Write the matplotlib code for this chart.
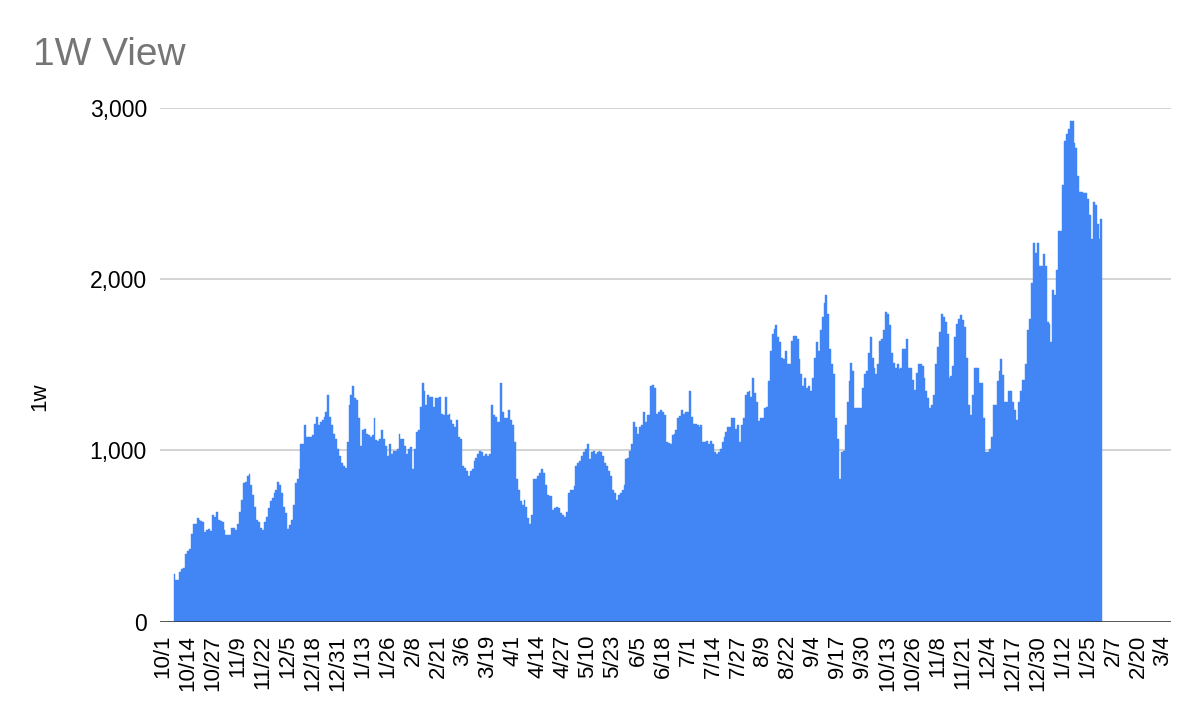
import numpy as np
import pandas as pd
import matplotlib
matplotlib.use("Agg")
import matplotlib.pyplot as plt
import matplotlib.dates as mdates

plt.rcParams['font.family'] = ['Liberation Sans', 'DejaVu Sans']

# daily "1w" values, one per day starting 2022-10-07
start_date = '2022-10-07'
views = [
    277, 241, 241, 290, 306, 316, 395, 415, 425, 514,
    573, 573, 603, 593, 589, 583, 524, 538, 543, 530,
    623, 613, 642, 593, 589, 583, 538, 504, 504, 504,
    549, 549, 538, 573, 642, 711, 810, 814, 850, 860,
    800, 741, 672, 593, 583, 549, 534, 583, 613, 662,
    702, 721, 751, 771, 814, 800, 751, 672, 632, 543,
    563, 593, 682, 810, 830, 889, 1038, 1038, 1146, 1077,
    1077, 1077, 1087, 1156, 1196, 1146, 1166, 1176, 1196, 1225,
    1324, 1196, 1146, 1097, 1067, 1008, 968, 929, 909, 899,
    1047, 1265, 1324, 1374, 1304, 1294, 1186, 1028, 1117, 1126,
    1097, 1087, 1077, 1087, 1190, 1060, 1057, 1067, 1117, 1067,
    1028, 968, 1038, 978, 998, 998, 1008, 1097, 1067, 1067,
    1028, 978, 1008, 1018, 889, 1008, 1107, 1117, 1255, 1393,
    1344, 1265, 1324, 1314, 1314, 1255, 1304, 1304, 1314, 1215,
    1209, 1314, 1205, 1215, 1176, 1156, 1136, 1176, 1077, 1067,
    909, 899, 879, 850, 879, 889, 939, 958, 978, 998,
    988, 968, 978, 968, 978, 1265, 1206, 1196, 1166, 1166,
    1393, 1225, 1186, 1186, 1235, 1176, 1146, 1047, 830, 771,
    702, 682, 711, 672, 603, 573, 623, 830, 830, 850,
    870, 889, 870, 800, 741, 731, 731, 652, 662, 672,
    662, 632, 623, 613, 642, 751, 771, 771, 790, 909,
    929, 939, 968, 988, 1008, 1038, 949, 988, 998, 978,
    988, 998, 988, 968, 929, 909, 879, 850, 771, 751,
    711, 741, 751, 771, 800, 949, 958, 998, 1038, 1166,
    1136, 1097, 1136, 1146, 1225, 1166, 1206, 1206, 1374, 1383,
    1364, 1215, 1225, 1235, 1225, 1209, 1047, 1043, 1038, 1087,
    1097, 1117, 1186, 1201, 1235, 1215, 1225, 1225, 1344, 1196,
    1156, 1156, 1150, 1136, 1146, 1047, 1047, 1057, 1038, 1057,
    1038, 988, 978, 988, 1008, 1047, 1077, 1107, 1136, 1136,
    1186, 1186, 1126, 1146, 1047, 1146, 1186, 1324, 1340, 1344,
    1314, 1423, 1334, 1285, 1170, 1186, 1186, 1245, 1255, 1403,
    1581, 1680, 1709, 1729, 1660, 1630, 1542, 1532, 1581, 1502,
    1502, 1640, 1670, 1670, 1650, 1532, 1443, 1374, 1423, 1364,
    1374, 1344, 1423, 1542, 1630, 1581, 1700, 1779, 1858, 1907,
    1798, 1591, 1502, 1443, 1186, 1067, 830, 988, 998, 1146,
    1285, 1403, 1512, 1462, 1245, 1245, 1245, 1245, 1364, 1443,
    1462, 1571, 1660, 1542, 1482, 1443, 1502, 1640, 1650, 1700,
    1808, 1798, 1729, 1571, 1512, 1482, 1502, 1472, 1482, 1591,
    1591, 1650, 1482, 1482, 1413, 1354, 1453, 1502, 1502, 1492,
    1423, 1344, 1304, 1245, 1265, 1324, 1502, 1601, 1690, 1798,
    1779, 1749, 1680, 1423, 1433, 1492, 1660, 1739, 1769, 1789,
    1759, 1719, 1542, 1265, 1206, 1324, 1482, 1482, 1482, 1393,
    1393, 1186, 988, 988, 1008, 1080, 1265, 1265, 1403, 1462,
    1532, 1440, 1285, 1285, 1344, 1344, 1285, 1235, 1180, 1285,
    1344, 1413, 1413, 1502, 1700, 1769, 1976, 2213, 2150, 2213,
    2075, 2075, 2144, 2075, 1749, 1739, 1630, 1937, 1907, 2055,
    2283, 2283, 2549, 2806, 2846, 2875, 2925, 2921, 2796, 2767,
    2600, 2510, 2510, 2500, 2500, 2470, 2372, 2233, 2451, 2431,
    2322, 2233, 2352,
]
dates = pd.date_range(start_date, periods=len(views), freq='D')

tick_dates = pd.date_range('2022-10-01', '2024-03-04', freq='13D')
tick_labels = [f"{d.month}/{d.day}" for d in tick_dates]
y_ticks = [0, 1000, 2000, 3000]
y_labels = ['0', '1,000', '2,000', '3,000']

fig = plt.figure(figsize=(12, 7.18), dpi=100)
ax = fig.add_axes([160 / 1200, 1 - 621.7 / 718, 1011 / 1200, 514 / 718])

ax.bar(dates, views, width=1.0, color='#4285F4', edgecolor='#4285F4', linewidth=0.3, zorder=2)

x0 = mdates.date2num(pd.Timestamp('2022-10-01'))
ax.set_xlim(x0 - 1.56, x0 + 524.2)
ax.set_ylim(0, 3000)

ax.set_xticks(tick_dates)
ax.set_xticklabels(tick_labels, rotation=90, ha='center', va='top', fontsize=16)
ax.set_yticks(y_ticks)
ax.set_yticklabels(y_labels, fontsize=16.5)
ax.tick_params(length=0, pad=9.4)

ax.set_axisbelow(True)
ax.grid(axis='y', color='#cccccc', linewidth=1.2, zorder=0)
ax.axhline(0, color='#333333', linewidth=1.8, zorder=3)
for s in ax.spines.values():
    s.set_visible(False)

fig.text(33 / 1200, 1 - 65 / 718, '1W View', fontsize=28, color='#757575', va='baseline', ha='left')
fig.text(40 / 1200, 1 - 397 / 718, '1w', fontsize=16, rotation=90, ha='center', va='center')

fig.savefig('out.png', dpi=100)
